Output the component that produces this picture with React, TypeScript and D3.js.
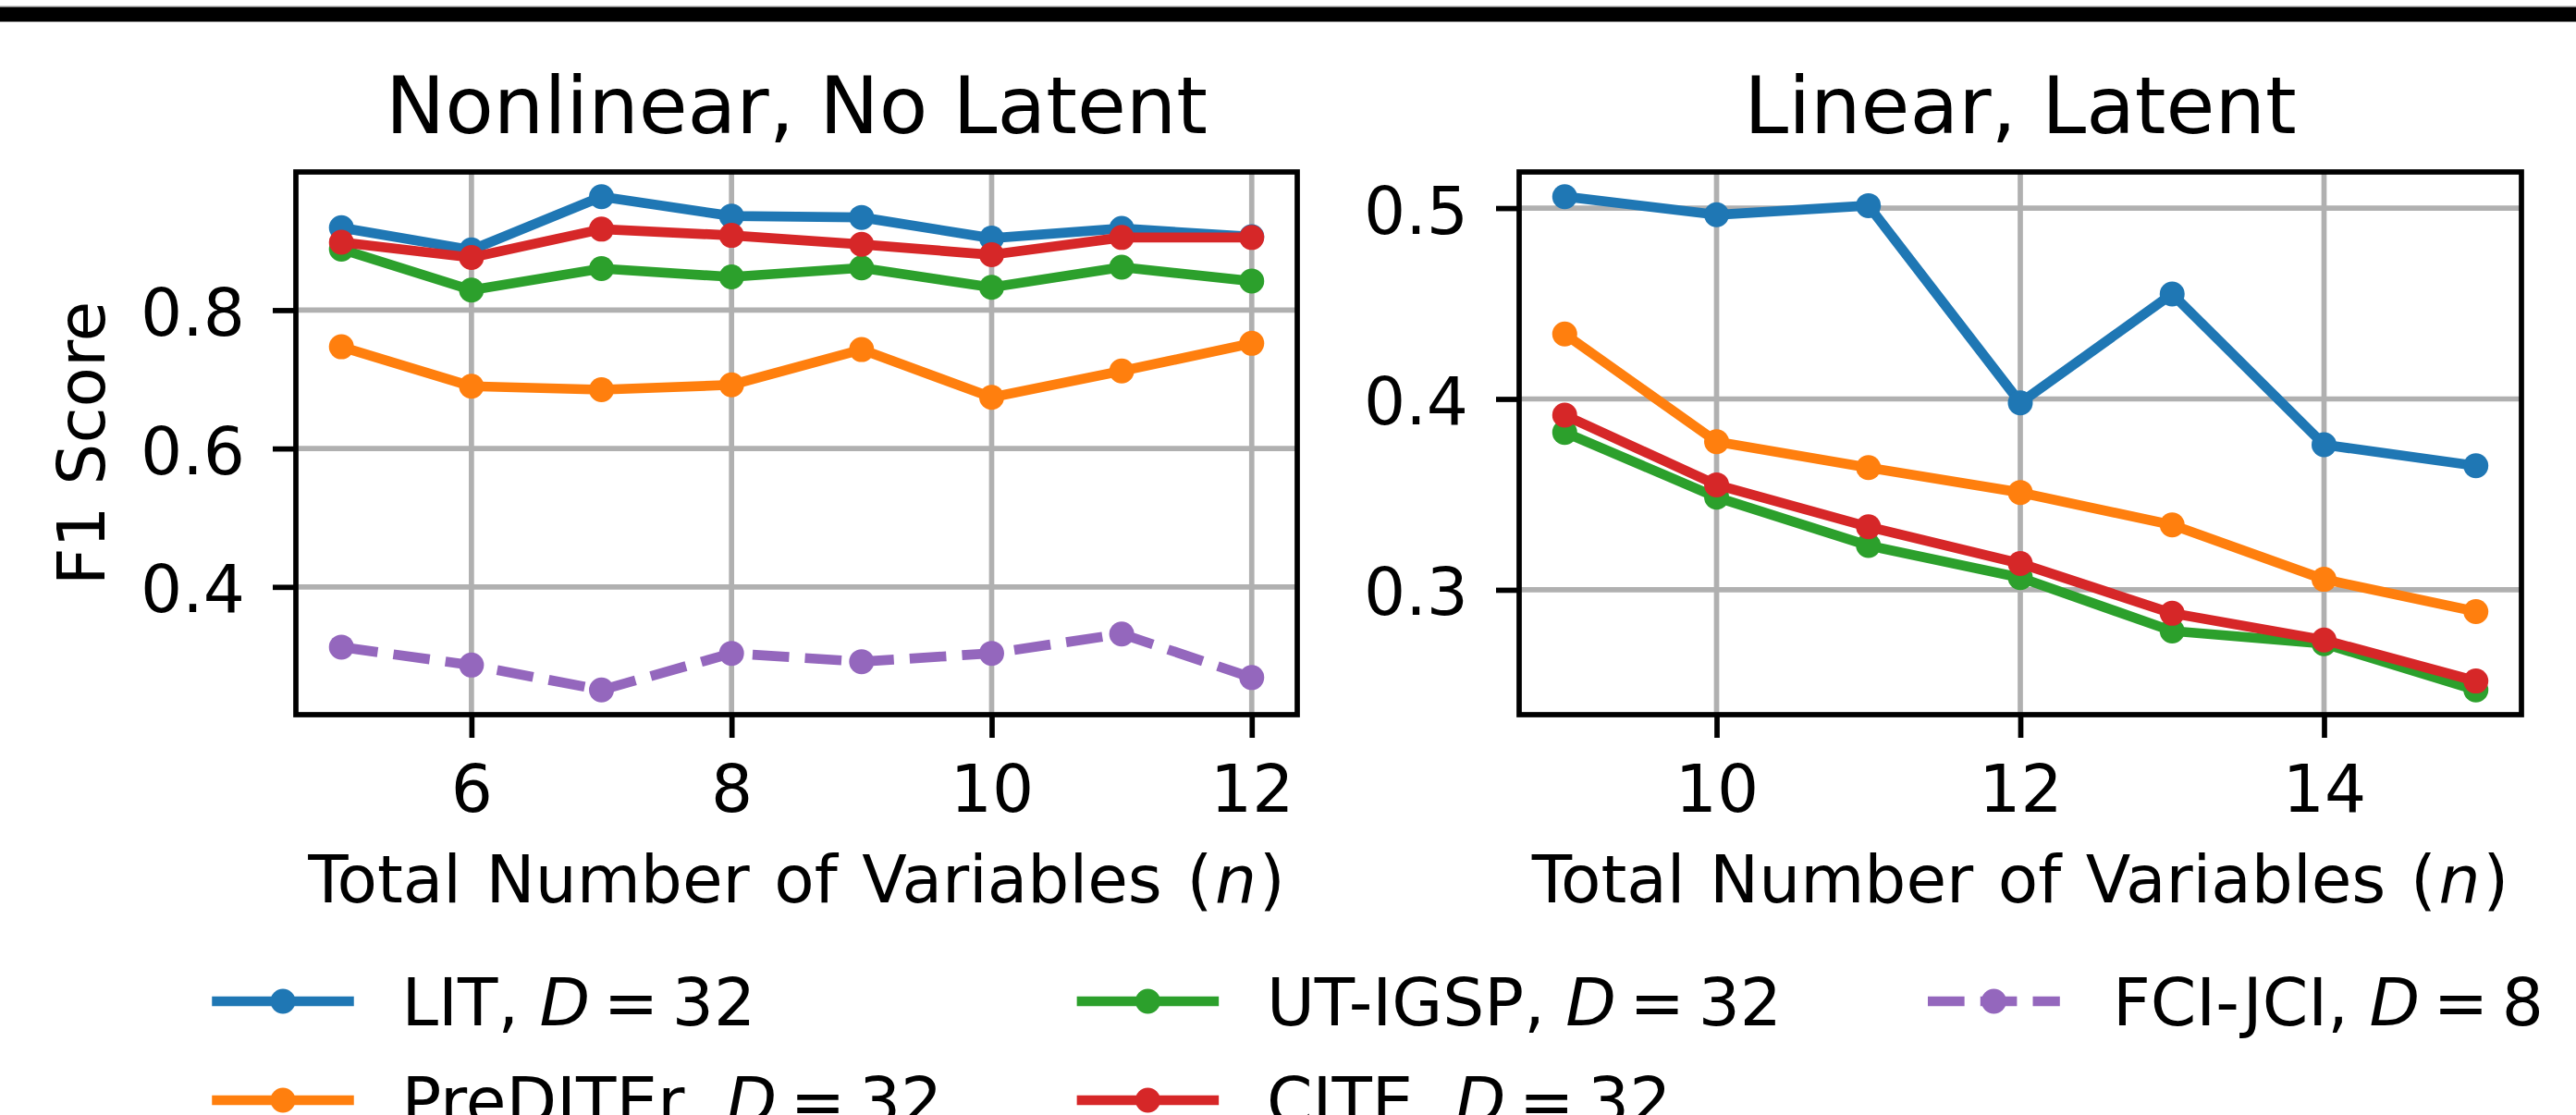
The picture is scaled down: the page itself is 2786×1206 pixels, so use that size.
import React, { useEffect, useRef } from 'react';
import * as d3 from 'd3';

// Nonlinear, No Latent
const nLeft = [5, 6, 7, 8, 9, 10, 11, 12];
const litLeft = [0.919, 0.887, 0.964, 0.936, 0.934, 0.904, 0.918, 0.906];
const prediterLeft = [0.747, 0.690, 0.685, 0.692, 0.743, 0.674, 0.712, 0.752];
const utigspLeft = [0.888, 0.829, 0.860, 0.848, 0.861, 0.833, 0.862, 0.842];
const citeLeft = [0.898, 0.876, 0.917, 0.908, 0.895, 0.880, 0.905, 0.905];
const fcijciLeft = [0.313, 0.287, 0.251, 0.304, 0.292, 0.304, 0.332, 0.269];

// Linear, Latent
const nRight = [9, 10, 11, 12, 13, 14, 15];
const litRight = [0.506, 0.4965, 0.5013, 0.398, 0.455, 0.376, 0.365];
const prediterRight = [0.434, 0.3776, 0.364, 0.351, 0.334, 0.3055, 0.2886];
const utigspRight = [0.3825, 0.3485, 0.3232, 0.3064, 0.2784, 0.2718, 0.2475];
const citeRight = [0.3915, 0.355, 0.333, 0.3138, 0.2877, 0.2737, 0.2522];

const leftXTicks = [6, 8, 10, 12];
const leftYTicks = [0.4, 0.6, 0.8];
const rightXTicks = [10, 12, 14];
const rightYTicks = [0.3, 0.4, 0.5];

const methods = ['LIT', 'PreDITEr', 'UT-IGSP', 'CITE', 'FCI-JCI'];
const budgets = [32, 32, 32, 32, 8];
const colors = ['#1f77b4', '#ff7f0e', '#2ca02c', '#d62728', '#9467bd'];

const width = 2786;
const height = 1206;
const font = '"DejaVu Sans", sans-serif';
const pt = 7.14; // px per point

type Series = { method: number; values: number[] };

const pad = (ext: [number, number]): [number, number] => {
	const r = ext[1] - ext[0];
	return [ext[0] - 0.05 * r, ext[1] + 0.05 * r];
};

const Chart = () => {
	const ref = useRef<SVGSVGElement>(null);

	useEffect(() => {
		if (!ref.current) return;
		const svg = d3.select(ref.current);
		svg.selectAll('*').remove();

		// rule at the top of the page
		svg.append('line')
			.attr('x1', 0).attr('x2', width)
			.attr('y1', 6.5).attr('y2', 6.5)
			.attr('stroke', '#c8c8c8').attr('stroke-width', 1);
		svg.append('rect')
			.attr('x', 0).attr('y', 7.5)
			.attr('width', width).attr('height', 16)
			.attr('fill', '#000');

		const panels = [
			{
				title: 'Nonlinear, No Latent',
				x0: 320, x1: 1403,
				xs: nLeft,
				series: [
					{ method: 0, values: litLeft },
					{ method: 1, values: prediterLeft },
					{ method: 2, values: utigspLeft },
					{ method: 3, values: citeLeft },
					{ method: 4, values: fcijciLeft },
				] as Series[],
				xTicks: leftXTicks,
				yTicks: leftYTicks,
				ylabel: true,
			},
			{
				title: 'Linear, Latent',
				x0: 1643, x1: 2727,
				xs: nRight,
				series: [
					{ method: 0, values: litRight },
					{ method: 1, values: prediterRight },
					{ method: 2, values: utigspRight },
					{ method: 3, values: citeRight },
				] as Series[],
				xTicks: rightXTicks,
				yTicks: rightYTicks,
				ylabel: false,
			},
		];

		const y0 = 186;
		const y1 = 773;

		panels.forEach(p => {
			const allY = p.series.flatMap(s => s.values);
			const xScale = d3.scaleLinear()
				.domain(pad(d3.extent(p.xs) as [number, number]))
				.range([p.x0, p.x1]);
			const yScale = d3.scaleLinear()
				.domain(pad(d3.extent(allY) as [number, number]))
				.range([y1, y0]);

			const g = svg.append('g');

			// grid
			g.selectAll('.vgrid')
				.data(p.xTicks)
				.join('line')
				.attr('x1', d => xScale(d)).attr('x2', d => xScale(d))
				.attr('y1', y0).attr('y2', y1)
				.attr('stroke', '#b0b0b0').attr('stroke-width', 0.8 * pt);
			g.selectAll('.hgrid')
				.data(p.yTicks)
				.join('line')
				.attr('x1', p.x0).attr('x2', p.x1)
				.attr('y1', d => yScale(d)).attr('y2', d => yScale(d))
				.attr('stroke', '#b0b0b0').attr('stroke-width', 0.8 * pt);

			// series
			const line = d3.line<number>()
				.x((d, i) => xScale(p.xs[i]))
				.y(d => yScale(d));
			p.series.forEach(s => {
				const dashed = s.method === 4;
				g.append('path')
					.attr('d', line(s.values))
					.attr('fill', 'none')
					.attr('stroke', colors[s.method])
					.attr('stroke-width', 1.5 * pt)
					.attr('stroke-linejoin', 'round')
					.attr('stroke-linecap', dashed ? 'butt' : 'square')
					.attr('stroke-dasharray', dashed ? `${3.7 * 1.5 * pt},${1.6 * 1.5 * pt}` : null);
				g.selectAll(null)
					.data(s.values)
					.join('circle')
					.attr('cx', (d, i) => xScale(p.xs[i]))
					.attr('cy', d => yScale(d))
					.attr('r', 13.5)
					.attr('fill', colors[s.method]);
			});

			// axes
			const xAxis = g.append('g')
				.attr('transform', `translate(0,${y1})`)
				.call(d3.axisBottom(xScale).tickValues(p.xTicks).tickFormat(d3.format('d')).tickSize(25).tickPadding(30));
			const yAxis = g.append('g')
				.attr('transform', `translate(${p.x0},0)`)
				.call(d3.axisLeft(yScale).tickValues(p.yTicks).tickFormat(d3.format('.1f')).tickSize(25).tickPadding(30));
			[xAxis, yAxis].forEach(a => {
				a.select('.domain').remove();
				a.selectAll('line').attr('stroke', '#000').attr('stroke-width', 0.8 * pt);
				a.selectAll('text')
					.attr('fill', '#000')
					.style('font-family', font)
					.style('font-size', '71px');
			});
			yAxis.selectAll('text').attr('dy', '0.38em');

			// spines
			g.append('rect')
				.attr('x', p.x0).attr('y', y0)
				.attr('width', p.x1 - p.x0).attr('height', y1 - y0)
				.attr('fill', 'none')
				.attr('stroke', '#000')
				.attr('stroke-width', 0.8 * pt);

			// title
			g.append('text')
				.attr('x', (p.x0 + p.x1) / 2)
				.attr('y', 143.5)
				.attr('text-anchor', 'middle')
				.style('font-family', font)
				.style('font-size', '86px')
				.text(p.title);

			// x label
			const xl = g.append('text')
				.attr('x', (p.x0 + p.x1) / 2)
				.attr('y', 976)
				.attr('text-anchor', 'middle')
				.style('font-family', font)
				.style('font-size', '71px')
				.style('word-spacing', '4px');
			xl.append('tspan').text('Total Number of Variables (');
			xl.append('tspan').attr('dx', 3).style('font-style', 'italic').text('n');
			xl.append('tspan').attr('dx', 3).text(')');

			if (p.ylabel) {
				g.append('text')
					.attr('transform', `translate(113,${(y0 + y1) / 2}) rotate(-90)`)
					.attr('text-anchor', 'middle')
					.style('font-family', font)
					.style('font-size', '71px')
					.text('F1 Score');
			}
		});

		// legend, filled column by column
		const colX = [234.6, 1170, 2085];
		const rowY = [1083, 1190];
		const handleLen = 20 * pt;
		const legend = svg.append('g');
		methods.forEach((m, i) => {
			const cx = colX[Math.floor(i / 2)];
			const cy = rowY[i % 2];
			const dashed = i === 4;
			legend.append('line')
				.attr('x1', cx).attr('x2', cx + handleLen)
				.attr('y1', cy).attr('y2', cy)
				.attr('stroke', colors[i])
				.attr('stroke-width', 1.5 * pt)
				.attr('stroke-linecap', dashed ? 'butt' : 'square')
				.attr('stroke-dasharray', dashed ? `${3.7 * 1.5 * pt},${1.6 * 1.5 * pt}` : null);
			legend.append('circle')
				.attr('cx', cx + handleLen / 2).attr('cy', cy)
				.attr('r', 13.5)
				.attr('fill', colors[i]);
			const t = legend.append('text')
				.attr('x', cx + handleLen + 0.8 * 10 * pt)
				.attr('y', cy + 26)
				.style('font-family', font)
				.style('font-size', '71px');
			t.append('tspan').text(`${m}, `);
			t.append('tspan').style('font-style', 'italic').text('D');
			t.append('tspan').style('word-spacing', '-8px').text(` = ${budgets[i]}`);
		});
	}, []);

	return (
		<svg
			ref={ref}
			width={width}
			height={height}
			style={{ position: 'absolute', left: 0, top: 0, background: '#fff' }}
		/>
	);
};

export default function App() {
	return <Chart />;
}
